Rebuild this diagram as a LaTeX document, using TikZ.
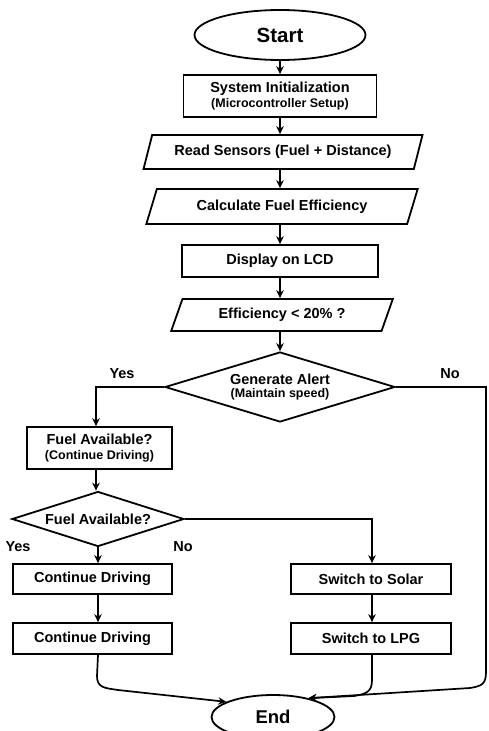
\documentclass[tikz,border=0pt]{standalone}
\usepackage{fontspec}
\setmainfont{Liberation Sans}
\usetikzlibrary{shapes.geometric,arrows.meta}
\newcommand{\subtx}{\bfseries\fontsize{12.5}{14}\selectfont}
\tikzset{
  base/.style={draw=black, line width=1.8pt, align=center, font=\bfseries\fontsize{14.5}{15.5}\selectfont, inner sep=0pt},
  term/.style={base, ellipse},
  proc/.style={base, rectangle},
  io/.style={base, trapezium, trapezium left angle=62, trapezium right angle=118, trapezium stretches=true},
  dec/.style={base, diamond},
  lab/.style={font=\bfseries\fontsize{14.5}{16}\selectfont, inner sep=0pt},
  conn/.style={line width=1.7pt, -{Stealth[length=8pt,width=7.5pt]}},
}
\begin{document}
\begin{tikzpicture}[x=1pt,y=-1pt]
\useasboundingbox (0,0) rectangle (488,731);
\node[term, minimum width=171, minimum height=50, font=\bfseries\fontsize{20.5}{22}\selectfont] (start) at (280,35) {Start};
\node[proc, minimum width=193, minimum height=42] (init) at (280,96) {System Initialization\\[-1pt]{\subtx (Microcontroller Setup)}};
\node[io, minimum width=280, minimum height=34] (read) at (283,152) {Read Sensors (Fuel + Distance)};
\node[io, minimum width=272, minimum height=35] (calc) at (282,206.5) {Calculate Fuel Efficiency};
\node[proc, minimum width=196, minimum height=32] (lcd) at (280,261) {Display on LCD};
\node[io, minimum width=222, minimum height=32] (eff) at (282,315) {Efficiency < 20\% ?};
\node[dec, aspect=3.3, minimum width=230, minimum height=70] (alert) at (280,387) {Generate Alert\\[-2pt]{\subtx (Maintain speed)}};
\node[proc, minimum width=145, minimum height=42] (fuelA) at (99.5,448) {Fuel Available?\\[-1pt]{\subtx (Continue Driving)}};
\node[dec, aspect=3.1, minimum width=172, minimum height=55] (fuelB) at (98,519) {Fuel Available?};
\node[proc, minimum width=159, minimum height=30] (cd1) at (92.5,579) {Continue Driving};
\node[proc, minimum width=159, minimum height=31] (cd2) at (92.5,638.5) {Continue Driving};
\node[proc, minimum width=160, minimum height=30] (solar) at (371,579) {Switch to Solar};
\node[proc, minimum width=160, minimum height=31] (lpg) at (371,638.5) {Switch to LPG};
\node[term, minimum width=123, minimum height=44, font=\bfseries\fontsize{18.5}{20}\selectfont] (end) at (273,717) {End};

\draw[conn] (start.south) -- (init.north);
\draw[conn] (init.south) -- (init.south |- read.north);
\draw[conn] (init.south |- read.south) -- (init.south |- calc.north);
\draw[conn] (init.south |- calc.south) -- (lcd.north);
\draw[conn] (lcd.south) -- (lcd.south |- eff.north);
\draw[conn] (lcd.south |- eff.south) -- (alert.north);

\coordinate (yesC) at (96,387);
\draw[conn] (alert.west) -- (yesC) -- (yesC |- fuelA.north);
\node[lab] (yes1) at (122,374) {Yes};
\coordinate (noC) at (486,387);
\coordinate (noD) at (486,672);
\draw[conn] (alert.east) -- (noC) -- (noD) .. controls (486,684) and (482,686) .. (470,688) -- (end.28);
\node[lab] (no1) at (450,374) {No};

\draw[conn] (yesC |- fuelA.south) -- (yesC |- fuelB.north);
\draw[conn] (fuelB.south) -- (fuelB.south |- cd1.north);
\draw[conn] (fuelB.south |- cd1.south) -- (fuelB.south |- cd2.north);
\coordinate (sC) at (372,519);
\draw[conn] (fuelB.east) -- (sC) -- (sC |- solar.north);
\draw[conn] (sC |- solar.south) -- (sC |- lpg.north);
\node[lab] (yes2) at (18,547) {Yes};
\node[lab] (no2) at (183,547) {No};

\draw[conn] (fuelB.south |- cd2.south) -- (97,676) .. controls (97,688) and (105,688) .. (118,690) -- (end.162);
\draw[conn] (sC |- lpg.south) -- (372,680) .. controls (372,692) and (366,694) .. (354,696) -- (end.28);
\end{tikzpicture}
\end{document}
